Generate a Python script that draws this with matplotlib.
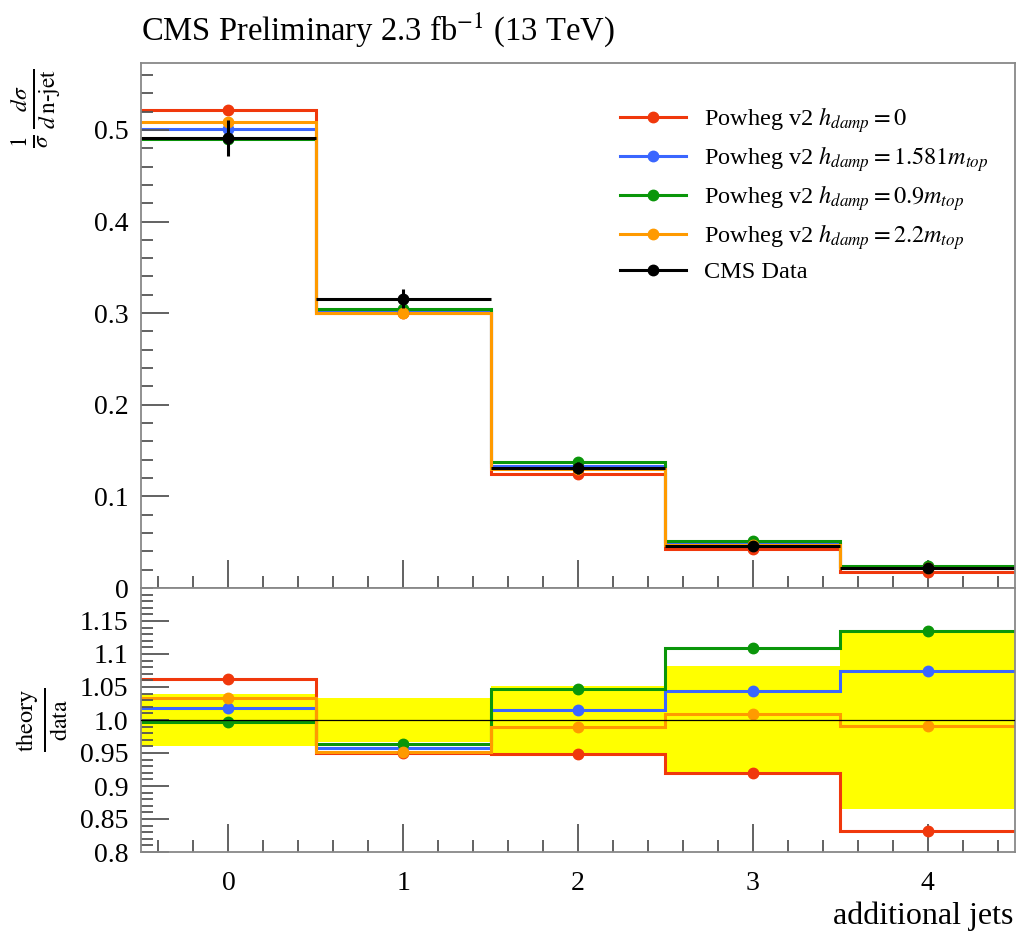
import matplotlib.pyplot as plt
import numpy as np
from matplotlib.lines import Line2D
from matplotlib.ticker import MultipleLocator, FixedLocator, FixedFormatter

plt.rcParams['font.family'] = ['Liberation Serif', 'DejaVu Serif']
plt.rcParams['mathtext.fontset'] = 'stix'

# jet multiplicity bins
njets = np.array([0, 1, 2, 3, 4])
edges = np.array([-0.5, 0.5, 1.5, 2.5, 3.5, 4.5])

# normalised cross section, CMS data and relative uncertainty
data = np.array([0.4916, 0.3158, 0.1310, 0.0460, 0.0215])
data_relerr = np.array([0.040, 0.033, 0.052, 0.082, 0.135])

# Powheg v2 predictions for different hdamp
hdamp_0 = np.array([0.5219, 0.3002, 0.1243, 0.0423, 0.0179])
hdamp_1581 = np.array([0.5008, 0.3022, 0.1330, 0.0480, 0.0231])
hdamp_09 = np.array([0.4899, 0.3041, 0.1372, 0.0510, 0.0244])
hdamp_22 = np.array([0.5082, 0.3006, 0.1297, 0.0464, 0.0213])

modelos = [
    (hdamp_0, '#f0380c', r'Powheg v2 $h_{damp} = 0$'),
    (hdamp_1581, '#3a66ff', r'Powheg v2 $h_{damp} = 1.581m_{top}$'),
    (hdamp_09, '#0a960a', r'Powheg v2 $h_{damp} = 0.9m_{top}$'),
    (hdamp_22, '#ff9a00', r'Powheg v2 $h_{damp} = 2.2m_{top}$'),
]

W, H = 1017, 931
fig = plt.figure(figsize=(W / 100, H / 100), dpi=100)
ax = fig.add_axes([141 / W, 1 - 588 / H, 874 / W, 525 / H])
axr = fig.add_axes([141 / W, 1 - 852 / H, 874 / W, 264 / H], sharex=ax)

# --- upper panel: distributions
handles = []
for vals, col, lab in modelos:
    ax.stairs(vals, edges, baseline=None, color=col, lw=2.2)
    ax.plot(njets, vals, 'o', color=col, ms=7.5)
    handles.append(Line2D([], [], color=col, lw=2.2, marker='o', ms=7.5, label=lab))
ax.errorbar(njets, data, xerr=0.5, yerr=data * data_relerr, fmt='o', color='black',
            ms=7.5, elinewidth=2.2, capsize=0)
handles.append(Line2D([], [], color='black', lw=2.2, marker='o', ms=7.5, label='CMS Data'))

ax.set_xlim(-0.5, 4.5)
ax.set_ylim(0, 0.573)
ax.yaxis.set_major_locator(FixedLocator([0, 0.1, 0.2, 0.3, 0.4, 0.5]))
ax.yaxis.set_major_formatter(FixedFormatter(['0', '0.1', '0.2', '0.3', '0.4', '0.5']))
ax.yaxis.set_minor_locator(MultipleLocator(0.02))

ax.legend(handles=handles, loc='upper left', bbox_to_anchor=(0.548, 0.92), frameon=False,
          fontsize=17.5, handlelength=2.7, handletextpad=0.75, labelspacing=0.38,
          borderpad=0, borderaxespad=0)

# --- lower panel: ratio to data
axr.stairs(1 + data_relerr, edges, baseline=1 - data_relerr, fill=True, color='#ffff00', lw=0)
for vals, col, lab in modelos:
    ratio = vals / data
    axr.stairs(ratio, edges, baseline=None, color=col, lw=2.2)
    axr.plot(njets, ratio, 'o', color=col, ms=7.5)
axr.axhline(1.0, color='black', lw=0.9, zorder=5)

axr.set_ylim(0.8, 1.2)
rticks = [0.8, 0.85, 0.9, 0.95, 1.0, 1.05, 1.1, 1.15]
axr.yaxis.set_major_locator(FixedLocator(rticks))
axr.yaxis.set_major_formatter(FixedFormatter(['0.8', '0.85', '0.9', '0.95', '1.0', '1.05', '1.1', '1.15']))
axr.yaxis.set_minor_locator(MultipleLocator(0.01))
axr.xaxis.set_major_locator(FixedLocator(njets))
axr.xaxis.set_minor_locator(MultipleLocator(0.2))

for a in (ax, axr):
    a.tick_params(which='both', direction='in', color='#555555', width=1.3,
                  top=False, right=False, labelsize=20)
    a.tick_params(which='major', length=20)
    a.tick_params(which='minor', length=8.6)
    a.tick_params(axis='y', pad=9)
    a.tick_params(axis='x', pad=14)
    for s in a.spines.values():
        s.set_color('#888888')
        s.set_linewidth(1.3)
ax.tick_params(axis='x', labelbottom=False)

fig.text(141 / W, 1 - 30 / H, r'CMS Preliminary 2.3 fb$^{-1}$ (13 TeV)', fontsize=23.5,
         ha='left', va='center')
fig.text(1013 / W, 1 - 916 / H, 'additional jets', fontsize=23, ha='right', va='center')
fig.text(36 / W, 1 - 108 / H, r'$\frac{1}{\sigma}\,\frac{d\sigma}{d\,\mathrm{n}\text{-}\mathrm{jet}}$',
         rotation=90, fontsize=24, ha='center', va='center')
fig.text(43 / W, 1 - 720 / H, r'$\frac{\mathrm{theory}}{\mathrm{data}}$',
         rotation=90, fontsize=25, ha='center', va='center')

fig.savefig('out.png', dpi=100)
